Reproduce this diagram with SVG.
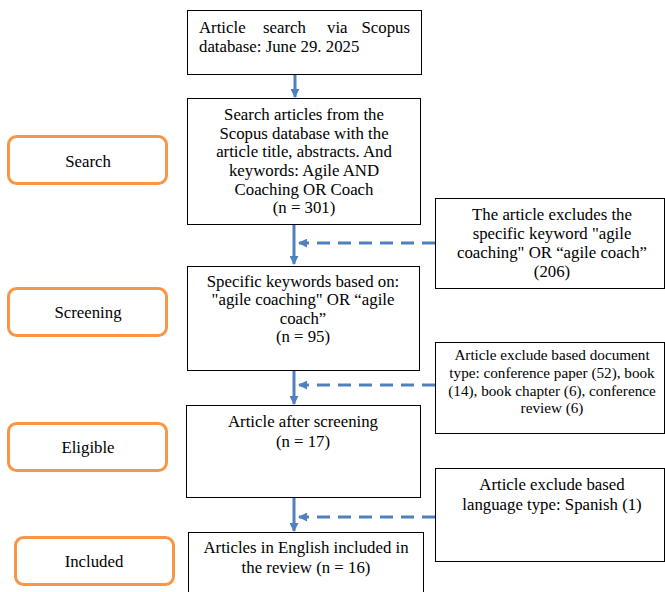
<svg xmlns="http://www.w3.org/2000/svg" width="665" height="592" viewBox="0 0 665 592">
<style>
.box{fill:#fff;stroke:#000;stroke-width:1}
.stage{fill:#fff;stroke:#f79646;stroke-width:3}
text{font-family:"Liberation Serif","Times New Roman",serif;font-size:16.8px;fill:#000}
.c{text-anchor:middle}
.sm{font-size:15.2px}
.flow{stroke:#4f81bd;stroke-width:3;fill:none}
.dash{stroke:#4f81bd;stroke-width:3;fill:none;stroke-dasharray:13 8}
</style>
<defs>
<marker id="ah" viewBox="0 0 10 10" refX="9" refY="5" markerWidth="3" markerHeight="3" orient="auto" markerUnits="strokeWidth">
<path d="M0,0 L10,5 L0,10 z" fill="#4f81bd"/>
</marker>
</defs>
<g id="stage-search"><rect class="stage" x="8.5" y="136.5" width="158" height="47" rx="8"/><text class="c" x="88" y="167">Search</text></g>
<g id="stage-screening"><rect class="stage" x="8.5" y="288.5" width="158" height="47" rx="8"/><text class="c" x="88" y="318">Screening</text></g>
<g id="stage-eligible"><rect class="stage" x="8.5" y="423.5" width="158" height="47" rx="8"/><text class="c" x="88" y="453">Eligible</text></g>
<g id="stage-included"><rect class="stage" x="15.5" y="537.5" width="158" height="47" rx="8"/><text class="c" x="94" y="567">Included</text></g>

<g id="n1"><rect class="box" x="187.5" y="10.5" width="234" height="64"/>
<text x="199" y="33">Article</text><text x="263" y="33">search</text><text x="327" y="33">via</text><text x="410" y="33" text-anchor="end">Scopus</text>
<text x="199" y="52">database: June 29. 2025</text></g>

<g id="n2"><rect class="box" x="187.5" y="98.5" width="233" height="126"/>
<text class="c" x="304" y="120">Search articles from the</text>
<text class="c" x="304" y="139">Scopus database with the</text>
<text class="c" x="304" y="157">article title, abstracts. And</text>
<text class="c" x="304" y="176">keywords: Agile AND</text>
<text class="c" x="304" y="195">Coaching OR Coach</text>
<text class="c" x="304" y="213">(n = 301)</text></g>

<g id="x1"><rect class="box" x="435.5" y="198.5" width="229" height="90"/>
<text class="c" x="552" y="220">The article excludes the</text>
<text class="c" x="552" y="239">specific keyword "agile</text>
<text class="c" x="552" y="258">coaching" OR “agile coach”</text>
<text class="c" x="552" y="277">(206)</text></g>

<g id="n3"><rect class="box" x="187.5" y="266.5" width="232" height="104"/>
<text class="c" x="303" y="287">Specific keywords based on:</text>
<text class="c" x="303" y="305">"agile coaching" OR “agile</text>
<text class="c" x="303" y="324">coach”</text>
<text class="c" x="303" y="342">(n = 95)</text></g>

<g id="x2"><rect class="box" x="435.5" y="342.5" width="229" height="91"/>
<text class="c sm" x="552" y="360">Article exclude based document</text>
<text class="c sm" x="552" y="378">type: conference paper (52), book</text>
<text class="c sm" x="552" y="396">(14), book chapter (6), conference</text>
<text class="c sm" x="552" y="413">review (6)</text></g>

<g id="n4"><rect class="box" x="186.5" y="405.5" width="234" height="92"/>
<text class="c" x="303" y="427">Article after screening</text>
<text class="c" x="303" y="447">(n = 17)</text></g>

<g id="x3"><rect class="box" x="435.5" y="468.5" width="229" height="93"/>
<text class="c" x="552" y="490">Article exclude based</text>
<text class="c" x="552" y="510">language type: Spanish (1)</text></g>

<g id="n5"><rect class="box" x="188.5" y="532.5" width="235" height="70"/>
<text class="c" x="306" y="553">Articles in English included in</text>
<text class="c" x="306" y="573">the review (n = 16)</text></g>

<g id="connectors">
<line class="flow" x1="295" y1="75" x2="295" y2="97" marker-end="url(#ah)"/>
<line class="flow" x1="294" y1="225" x2="294" y2="264" marker-end="url(#ah)"/>
<line class="dash" x1="435" y1="243" x2="299" y2="243" marker-end="url(#ah)"/>
<line class="flow" x1="294" y1="371" x2="294" y2="404" marker-end="url(#ah)"/>
<line class="dash" x1="435" y1="385" x2="299" y2="385" marker-end="url(#ah)"/>
<line class="flow" x1="294" y1="498" x2="294" y2="531" marker-end="url(#ah)"/>
<line class="dash" x1="435" y1="517" x2="299" y2="517" marker-end="url(#ah)"/>
</g>
</svg>
